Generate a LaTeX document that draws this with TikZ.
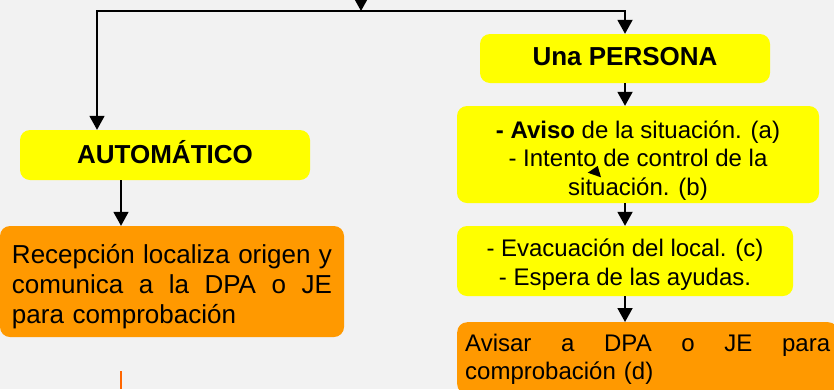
\documentclass[tikz,border=0pt]{standalone}
\usepackage{fontspec}
\setmainfont{Liberation Sans}
\usetikzlibrary{arrows.meta}

\definecolor{fondo}{HTML}{F2F2F2}
\definecolor{amarillo}{HTML}{FFFF00}
\definecolor{naranja}{HTML}{FF9900}
\definecolor{trazo}{HTML}{FF6600}

\newcommand{\linea}[2]{\makebox[#1][s]{\spaceskip=0pt\relax #2}}

\begin{document}
\begin{tikzpicture}[x=1pt,y=-1pt,
  caja/.style={rounded corners=10pt, inner sep=0pt},
  amarilla/.style={caja, fill=amarillo},
  naranja/.style={caja, fill=naranja},
  titulo/.style={inner sep=0pt, font=\fontsize{26}{30}\selectfont\bfseries},
  texto/.style={inner sep=0pt, align=center},
  bloque/.style={inner sep=0pt, align=left},
  flecha/.style={line width=1.8pt, -{Triangle[width=15pt,length=14pt]}}]
\fill[fondo] (0,0) rectangle (834,389);
\clip (0,0) rectangle (834,389);
\node[amarilla, minimum width=290pt, minimum height=50pt] (automatico) at (165,155) {};
\node[naranja, minimum width=344pt, minimum height=111pt] (recepcion) at (172,281.5) {};
\node[amarilla, minimum width=290pt, minimum height=49pt] (persona) at (625,58.5) {};
\node[amarilla, minimum width=362pt, minimum height=97pt] (aviso) at (638,154.5) {};
\node[amarilla, minimum width=336pt, minimum height=70pt] (evacuacion) at (625,261) {};
\node[naranja, anchor=north west, minimum width=381pt, minimum height=72pt] (avisar) at (457,322) {};
\node[titulo, yshift=3pt] (t-automatico) at (automatico.center) {AUTOMÁTICO};
\node[titulo, yshift=2pt] (t-persona) at (persona.center) {Una PERSONA};
\node[bloque, text width=320pt, font=\fontsize{26}{30}\selectfont, yshift=-5pt] (t-recepcion) at (recepcion.center)
  {\linea{320pt}{Recepción localiza origen y}\\ \linea{320pt}{comunica a la DPA o JE}\\ para comprobación};
\node[texto, font=\fontsize{24}{28.5}\selectfont, yshift=-6pt] (t-aviso) at (aviso.center)
  {\textbf{- Aviso} de la situación. (a)\\ - Intento de control de la\\ situación. (b)};
\node[texto, font=\fontsize{24}{29}\selectfont, yshift=-3.5pt] (t-evacuacion) at (evacuacion.center)
  {- Evacuación del local. (c)\\ - Espera de las ayudas.};
\node[bloque, text width=365pt, font=\fontsize{24}{28}\selectfont, yshift=-1pt] (t-avisar) at (avisar.center)
  {\linea{365pt}{Avisar a DPA o JE para}\\ comprobación (d)};
\coordinate (entrada) at (361,0);
\coordinate (reparto) at (361,11);
\coordinate (izquierda) at (97,11);
\coordinate (bajada) at (121,0);
\coordinate (salida) at (121,371);
\coordinate (fin) at (121,389);
\draw[flecha] (entrada) -- (reparto);
\draw[flecha] (reparto) -- (izquierda) -- (izquierda |- automatico.north);
\draw[flecha] (reparto) -| (persona.north);
\draw[flecha] (automatico.south -| bajada) -- (recepcion.north -| bajada);
\draw[flecha] (persona.south) -- (persona.south |- aviso.north);
\draw[flecha] (aviso.south -| persona.south) -- (evacuacion.north);
\draw[flecha] (evacuacion.south) -- (evacuacion.south |- avisar.north);
\draw[trazo, line width=2pt] (salida) -- (fin);
\fill (587.7,172.7) -- (597.7,166) -- (601,177.3) -- cycle;
\end{tikzpicture}
\end{document}
